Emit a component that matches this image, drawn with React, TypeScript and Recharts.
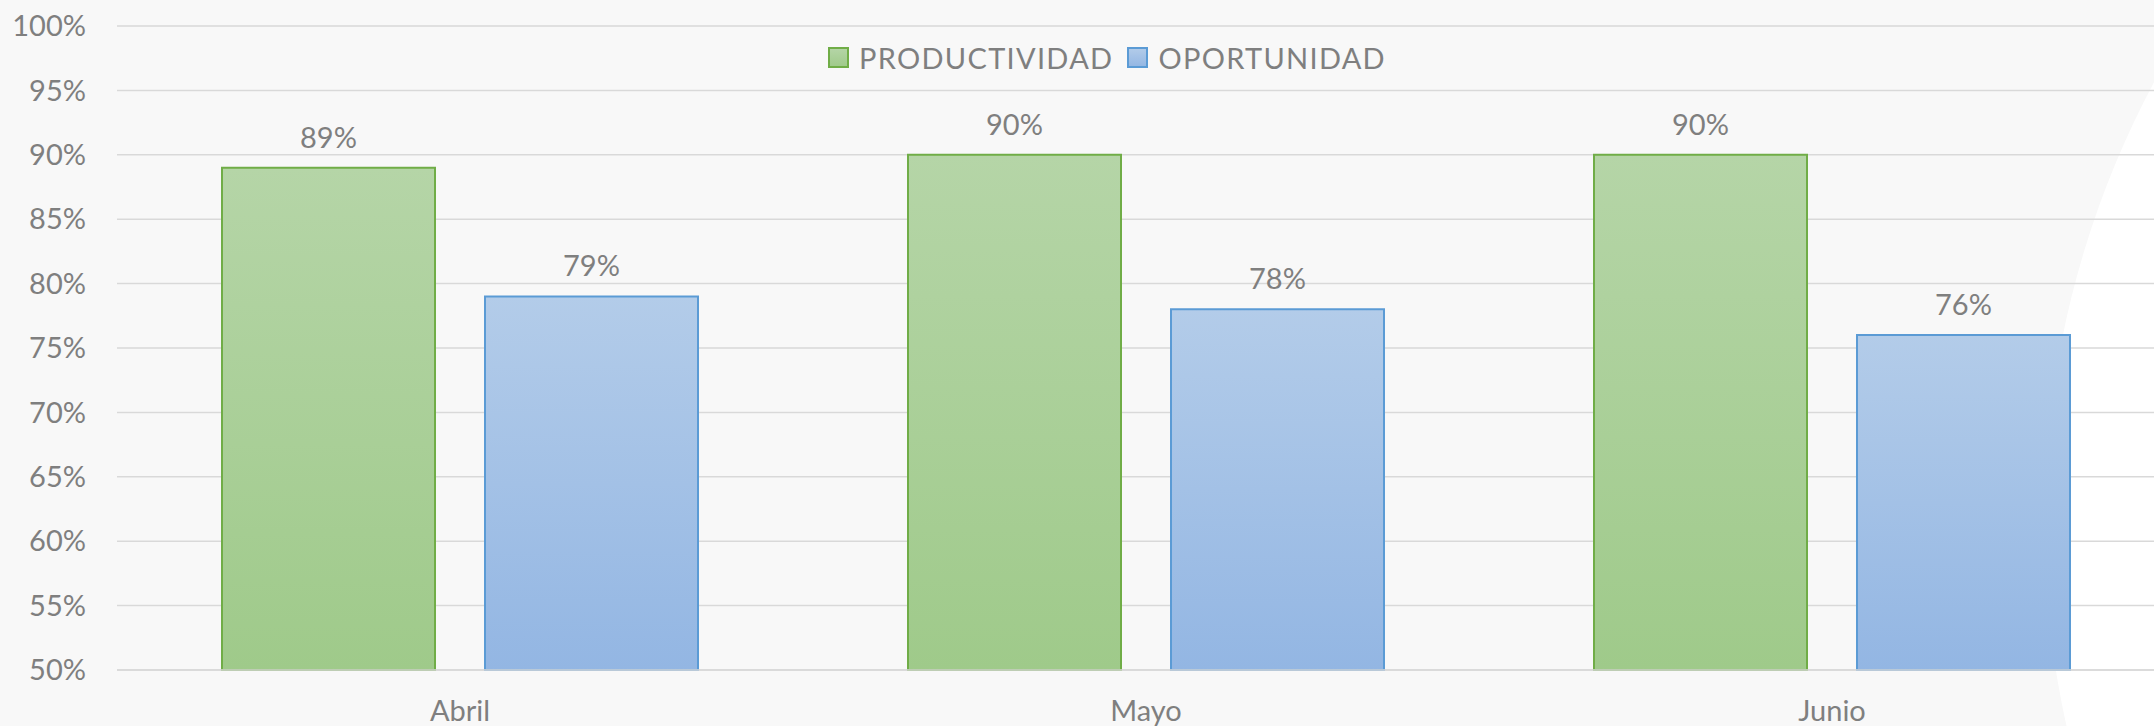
import React from "react"
import { BarChart, Bar, XAxis, YAxis, CartesianGrid, LabelList, Legend } from "recharts"

// months shown on the x axis
const MONTHS = ["Abril", "Mayo", "Junio"]
const PRODUCTIVIDAD = [89, 90, 90]
const OPORTUNIDAD = [79, 78, 76]
const Y_TICKS = [50, 55, 60, 65, 70, 75, 80, 85, 90, 95, 100]

const SERIES = [
  { key: "productividad", name: "PRODUCTIVIDAD", stroke: "#70ad47", grad: "gradGreen", top: "#b5d5a7", bottom: "#9fca8a" },
  { key: "oportunidad", name: "OPORTUNIDAD", stroke: "#5b9bd5", grad: "gradBlue", top: "#b3cce9", bottom: "#93b6e3" },
]

const data = MONTHS.map((m, i) => ({
  month: m,
  productividad: PRODUCTIVIDAD[i],
  oportunidad: OPORTUNIDAD[i],
}))

const FONT = "Lato, 'Open Sans', sans-serif"
const TEXT = "#7f7f7f"

function LegendContent() {
  return (
    <div style={{ display: "flex", alignItems: "center", fontFamily: FONT, fontSize: 29, letterSpacing: 1.3, color: TEXT, whiteSpace: "nowrap" }}>
      {SERIES.map((s, i) => (
        <div key={s.key} style={{ display: "flex", alignItems: "center", marginRight: i === 0 ? 14 : 0 }}>
          <svg width={21} height={21} style={{ marginRight: 10 }}>
            <defs>
              <linearGradient id={`${s.grad}L`} x1="0" y1="0" x2="0" y2="1">
                <stop offset="0%" stopColor={s.top} />
                <stop offset="100%" stopColor={s.bottom} />
              </linearGradient>
            </defs>
            <rect x={1} y={1} width={19} height={19} fill={`url(#${s.grad}L)`} stroke={s.stroke} strokeWidth={2} />
          </svg>
          <span>{s.name}</span>
        </div>
      ))}
    </div>
  )
}

export default function App() {
  return (
    <div style={{ position: "absolute", left: 0, top: 0, width: 2154, height: 726, overflow: "hidden", background: "#f8f8f8" }}>
      {/* decorative white arc in the background, right side */}
      <svg width={2154} height={726} style={{ position: "absolute", left: 0, top: 0 }}>
        <circle cx={2978} cy={522} r={934} fill="#ffffff" />
      </svg>
      <div style={{ position: "absolute", left: 0, top: 0 }}>
        <BarChart
          width={2200}
          height={726}
          data={data}
          margin={{ top: 26, right: 25, bottom: 0, left: 0 }}
          barCategoryGap={105}
          barGap={50}
        >
          <defs>
            {SERIES.map((s) => (
              <linearGradient key={s.grad} id={s.grad} x1="0" y1="0" x2="0" y2="1">
                <stop offset="0%" stopColor={s.top} />
                <stop offset="100%" stopColor={s.bottom} />
              </linearGradient>
            ))}
          </defs>
          <CartesianGrid vertical={false} stroke="#d9d9d9" strokeWidth={1.5} />
          <XAxis
            dataKey="month"
            height={56}
            tickSize={0}
            tickMargin={30}
            axisLine={{ stroke: "#d9d9d9", strokeWidth: 1.5 }}
            tick={{ fontSize: 29, fill: TEXT, fontFamily: FONT }}
          />
          <YAxis
            type="number"
            domain={[50, 100]}
            ticks={Y_TICKS}
            width={117}
            tickSize={0}
            tickMargin={31}
            axisLine={false}
            tickFormatter={(v: number) => `${v}%`}
            tick={{ fontSize: 29, fill: TEXT, fontFamily: FONT }}
          />
          <Legend
            layout="horizontal"
            verticalAlign="middle"
            align="center"
            wrapperStyle={{ top: 40, left: 828, width: "auto" }}
            content={() => <LegendContent />}
          />
          {SERIES.map((s) => (
            <Bar
              key={s.key}
              dataKey={s.key}
              name={s.name}
              fill={`url(#${s.grad})`}
              stroke={s.stroke}
              strokeWidth={2}
              isAnimationActive={false}
            >
              <LabelList
                dataKey={s.key}
                position="top"
                offset={20}
                formatter={(v: number) => `${v}%`}
                style={{ fontSize: 29, fill: TEXT, fontFamily: FONT }}
              />
            </Bar>
          ))}
        </BarChart>
      </div>
    </div>
  )
}
